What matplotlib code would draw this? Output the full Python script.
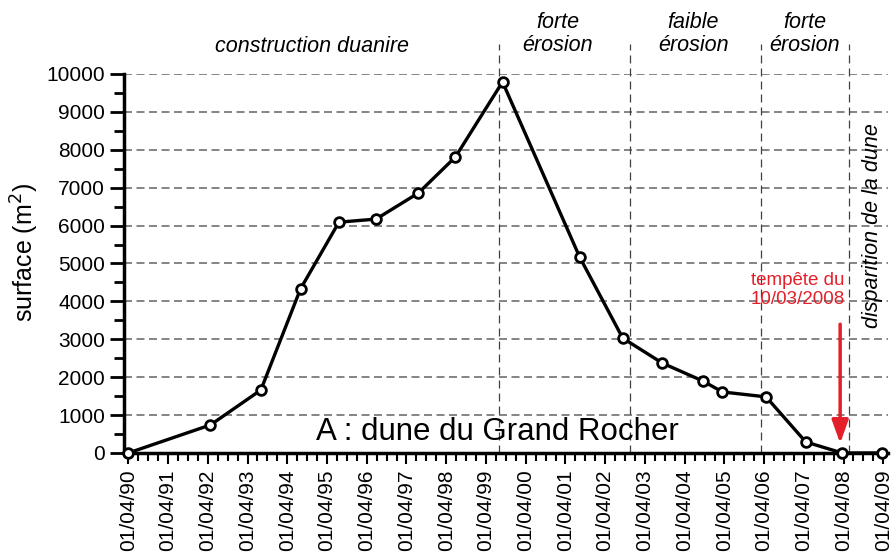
import matplotlib
matplotlib.use('Agg')
from matplotlib import pyplot as plt
import matplotlib.dates as mdates
import pandas as pd

plt.rcParams['font.family'] = ['Liberation Sans', 'DejaVu Sans']

# survey dates and dune surface (m2)
dates = ['1990-04-01', '1992-04-25', '1993-08-01', '1994-08-01', '1995-07-20',
         '1996-06-25', '1997-07-20', '1998-06-25', '1999-09-01', '2001-08-10',
         '2002-09-10', '2003-09-10', '2004-09-15', '2005-03-15', '2006-04-20',
         '2007-04-20', '2008-03-20', '2009-03-20']
surface = [0, 740, 1660, 4330, 6090, 6170, 6860, 7810, 9790, 5170,
           3030, 2370, 1900, 1610, 1480, 290, 0, 0]

# limits between phases
phase_limits = ['1999-08-01', '2002-11-20', '2006-03-05', '2008-05-20']
phase_labels = ['construction duanire', 'forte\nérosion', 'faible\nérosion', 'forte\nérosion']
phase_centers = ['1994-11-15', '2001-01-20', '2004-06-20', '2007-04-10']
storm_date = '2008-03-01'

x = pd.to_datetime(dates)

fig = plt.figure(figsize=(8.94, 5.56), dpi=100)
ax = fig.add_axes([0.1387, 0.1853, 0.8546, 0.6817])

# horizontal grid
for v in range(1000, 10001, 1000):
    ax.axhline(v, color='#707070', lw=1.2, dashes=(4.8, 2.7), zorder=1)

# phase limits
for d in phase_limits:
    ax.plot([pd.Timestamp(d)] * 2, [0, 10780], color='#404040', lw=0.9,
            dashes=(6.4, 4), clip_on=False, zorder=1)

ax.plot(x, surface, color='black', lw=2.4, marker='o', markersize=7,
        markerfacecolor='white', markeredgecolor='black', markeredgewidth=2,
        clip_on=False, zorder=5)

ax.set_xlim(pd.Timestamp('1990-02-20'), pd.Timestamp('2009-05-15'))
ax.set_ylim(0, 10000)

ax.xaxis.set_major_locator(mdates.YearLocator(month=4, day=1))
ax.xaxis.set_major_formatter(mdates.DateFormatter('%d/%m/%y'))
ax.xaxis.set_minor_locator(mdates.MonthLocator(bymonth=[1, 4, 7, 10]))
ax.set_yticks(range(0, 10001, 1000))
ax.set_yticks(range(500, 10000, 1000), minor=True)

ax.tick_params(axis='x', which='major', labelrotation=90, labelsize=15,
               length=8, width=1.5, direction='out', pad=4)
ax.tick_params(axis='x', which='minor', length=6, width=1.5, direction='out')
ax.tick_params(axis='y', which='major', labelsize=15, length=10, width=2, direction='out')
ax.tick_params(axis='y', which='minor', length=7, width=2, direction='out')

for s in ['top', 'right']:
    ax.spines[s].set_visible(False)
for s in ['left', 'bottom']:
    ax.spines[s].set_linewidth(2.5)

ax.set_ylabel('surface (m$^2$)', fontsize=18)
ax.yaxis.set_label_coords(-0.109, 0.53)

# phase labels
ax.text(pd.Timestamp(phase_centers[0]), 10720, phase_labels[0], style='italic',
        fontsize=15.5, ha='center', va='center')
for c, lab in zip(phase_centers[1:], phase_labels[1:]):
    ax.text(pd.Timestamp(c), 11050, lab, style='italic', fontsize=15.5,
            ha='center', va='center', linespacing=1.15)

ax.text(pd.Timestamp('2008-12-25'), 6000, 'disparition de la dune', style='italic',
        rotation=90, fontsize=15.5, ha='center', va='center')

ax.text(pd.Timestamp('1999-07-15'), 560, 'A : dune du Grand Rocher', fontsize=22.5,
        ha='center', va='center')

# storm
red = '#e3202a'
ax.text(pd.Timestamp('2008-04-10'), 4300, 'tempête du\n10/03/2008', color=red,
        fontsize=13.5, ha='right', va='center', linespacing=1.1)
ax.annotate('', xy=(pd.Timestamp(storm_date), 180), xytext=(pd.Timestamp(storm_date), 3470),
            arrowprops=dict(arrowstyle='-|>,head_length=1.4,head_width=0.5',
                            color=red, lw=2.5), zorder=6)

plt.savefig('out.png', dpi=100)
